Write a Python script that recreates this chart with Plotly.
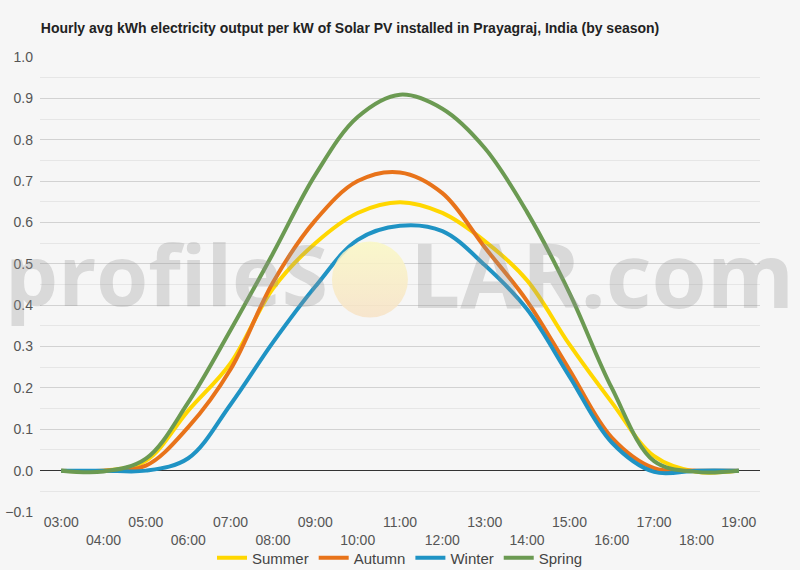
import plotly.graph_objects as go

hours = ["03:00", "04:00", "05:00", "06:00", "07:00", "08:00", "09:00", "10:00", "11:00",
         "12:00", "13:00", "14:00", "15:00", "16:00", "17:00", "18:00", "19:00"]
summer = [0.0, 0.0, 0.024, 0.145, 0.26, 0.44, 0.55, 0.623, 0.649, 0.623, 0.555, 0.46, 0.305, 0.165, 0.035, -0.003, 0.0]
autumn = [0.0, 0.0, 0.012, 0.105, 0.245, 0.455, 0.605, 0.70, 0.721, 0.671, 0.54, 0.41, 0.244, 0.08, 0.006, 0.0, 0.0]
winter = [0.0, 0.0, 0.0, 0.03, 0.16, 0.31, 0.445, 0.558, 0.592, 0.579, 0.497, 0.39, 0.228, 0.068, -0.003, 0.0, 0.0]
spring = [0.0, -0.002, 0.029, 0.165, 0.34, 0.525, 0.715, 0.855, 0.909, 0.875, 0.78, 0.625, 0.43, 0.2, 0.023, -0.003, 0.0]

series = [("Summer", summer, "#FFD700"),
          ("Autumn", autumn, "#E8731A"),
          ("Winter", winter, "#1F93C4"),
          ("Spring", spring, "#6B9A52")]

idx = list(range(len(hours)))
ticktext = [h if i % 2 == 0 else "<br>" + h for i, h in enumerate(hours)]

FONT = "Liberation Sans, Arial, sans-serif"

fig = go.Figure()
for name, vals, col in series:
    fig.add_trace(go.Scatter(x=idx, y=vals, name=name, mode="lines",
                             line=dict(color=col, width=4, shape="spline", smoothing=1.0)))

# watermark sun
fig.add_trace(go.Scatter(x=[7.29], y=[0.462], mode="markers", showlegend=False, hoverinfo="skip",
                         marker=dict(size=76, color="rgba(250,248,196,0.85)",
                                     gradient=dict(type="vertical", color="rgba(247,226,198,0.85)"),
                                     line=dict(width=0))))

wm_left = dict(family="Open Sans, sans-serif", size=84, weight=700, color="rgba(150,150,150,0.3)")
wm_right = dict(family="Open Sans, sans-serif", size=89, weight=700, color="rgba(150,150,150,0.3)")
fig.add_annotation(xref="paper", yref="paper", x=(330 - 40) / 720, y=0.525,
                   xanchor="right", yanchor="middle", text="profileS",
                   showarrow=False, font=wm_left)
fig.add_annotation(xref="paper", yref="paper", x=(408 - 40) / 720, y=0.525,
                   xanchor="left", yanchor="middle", text="LAR.com",
                   showarrow=False, font=wm_right)

fig.update_layout(
    width=800, height=570,
    paper_bgcolor="#F6F6F6", plot_bgcolor="#F6F6F6",
    margin=dict(l=40, r=40, t=57, b=58, autoexpand=False),
    title=dict(text="<b>Hourly avg kWh electricity output per kW of Solar PV installed in Prayagraj, India (by season)</b>",
               x=0.051, xanchor="left", y=0.951, yanchor="middle",
               font=dict(family=FONT, size=14, color="#222222")),
    font=dict(family=FONT, size=14, color="#555555"),
    legend=dict(orientation="h", x=0.5, xanchor="center", y=-0.101, yanchor="middle",
                font=dict(size=15, color="#444444"), itemwidth=30, bgcolor="rgba(0,0,0,0)"),
    showlegend=True,
)
fig.update_xaxes(range=[-0.5, 16.5], tickmode="array", tickvals=idx, ticktext=ticktext,
                 showgrid=False, zeroline=False, showline=False, ticks="",
                 tickfont=dict(size=14, color="#555555"), fixedrange=True)
fig.update_yaxes(range=[-0.1, 1.0], dtick=0.1, tickformat=".1f", showgrid=True,
                 gridcolor="#D2D2D2", gridwidth=1,
                 minor=dict(dtick=0.05, showgrid=True, gridcolor="#E6E6E6", gridwidth=1),
                 zeroline=True, zerolinecolor="#333333", zerolinewidth=1,
                 ticklabelstandoff=6,
                 tickfont=dict(size=14, color="#555555"), ticks="", fixedrange=True)

fig.write_html("out.html")
